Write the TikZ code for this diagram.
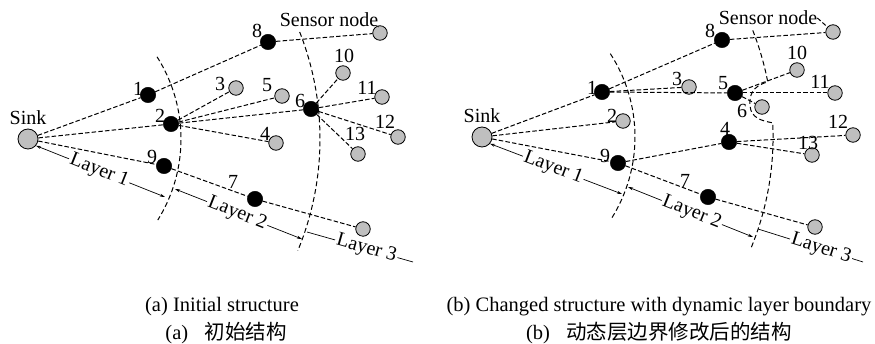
\documentclass[tikz,border=0pt]{standalone}
\usepackage{fontspec}
\setmainfont{Liberation Serif}
\newfontfamily\cjk{Noto Sans CJK SC}
\usetikzlibrary{positioning,arrows.meta,backgrounds}

\begin{document}
\begin{tikzpicture}[
	x=1pt, y=-1pt,
	font=\fontsize{20}{22}\selectfont,
	sink/.style={
		draw,
		circle,
		line width=0.8pt,
		minimum size=20pt,
		inner sep=0pt,
		fill=black!25,
	},
	relay/.style={
		draw,
		circle,
		minimum size=15.5pt,
		inner sep=0pt,
		fill=black,
	},
	sensor/.style={
		draw,
		circle,
		line width=0.8pt,
		minimum size=14.5pt,
		inner sep=0pt,
		fill=black!25,
	},
	num/.style={inner sep=0pt},
	link/.style={line width=1pt, dash pattern=on 4.5pt off 2.2pt},
	bound/.style={line width=1pt, dash pattern=on 5pt off 3pt},
	dim/.style={line width=0.7pt},
	dimarr/.style={{Stealth[length=5pt,width=3pt]}-{Stealth[length=5pt,width=3pt]}},
	lyr/.style={sloped, fill=white, inner sep=1.5pt},
	caption/.style={font=\fontsize{20.5}{22}\selectfont, inner sep=0pt},
]
\useasboundingbox (0,0) rectangle (875,344);

% (a) initial structure -- nodes
\node[sink] (sinkA) at (28,139) {};
\node[num, above=4pt of sinkA] (sinkAl) {Sink};
\node[relay] (a1) at (148,95) {};
\node[relay] (a2) at (171,124) {};
\node[sensor] (a3) at (236,88) {};
\node[sensor] (a4) at (276,143) {};
\node[sensor] (a5) at (282,96) {};
\node[relay] (a6) at (311,109) {};
\node[relay] (a7) at (255,199) {};
\node[relay] (a8) at (268,42) {};
\node[relay] (a9) at (164,166) {};
\node[sensor] (a10) at (343,73) {};
\node[sensor] (a11) at (382,97) {};
\node[sensor] (a12) at (398,137) {};
\node[sensor] (a13) at (358,154) {};
\node[sensor] (aS) at (380,33) {};
\node[sensor] (aT) at (363,229) {};

% (a) numbers
\node[num] (a1l) at (138,89) {1};
\node[num] (a2l) at (160,116) {2};
\node[num] (a3l) at (220,84) {3};
\node[num] (a4l) at (265,134) {4};
\node[num] (a5l) at (267,85) {5};
\node[num] (a6l) at (300,101) {6};
\node[num] (a7l) at (233,182) {7};
\node[num] (a8l) at (257,31) {8};
\node[num] (a9l) at (152,157) {9};
\node[num] (a10l) at (344,56) {10};
\node[num] (a11l) at (367,88) {11};
\node[num] (a12l) at (385,122) {12};
\node[num] (a13l) at (355,134) {13};
\node[num] (aSl) at (329,20) {Sensor node};

% (a) links
\draw[link] (sinkA) -- (a1);
\draw[link] (sinkA) -- (a2);
\draw[link] (sinkA) -- (a9);
\draw[link] (a1) -- (a8);
\draw[link] (a8) -- (aS);
\draw[link] (a2) -- (a3);
\draw[link] (a2) -- (a5);
\draw[link] (a2) -- (a6);
\draw[link] (a2) -- (a4);
\draw[link] (a6) -- (a10);
\draw[link] (a6) -- (a11);
\draw[link] (a6) -- (a12);
\draw[link] (a6) -- (a13);
\draw[link] (a9) -- (a7);
\draw[link] (a7) -- (aT);
\draw[dim] (aSl.south east) -- (aS);

% (a) layer boundaries -- behind the nodes
\begin{scope}[on background layer]
\draw[bound] (sinkA) ++(-32.5:153) arc[start angle=-32.5, end angle=32, radius=153];
\draw[bound] (sinkA) ++(-21.5:292) arc[start angle=-21.5, end angle=22.5, radius=292];
\end{scope}

% (a) layer widths
\coordinate (dA1) at (165,197);
\coordinate (dA2) at (175,189);
\coordinate (dA3) at (302,239);
\coordinate (dA4) at (307,232);
\coordinate (dA5) at (413,262);
\draw[dim, dimarr] (sinkA.-40) -- node[lyr, pos=0.49] {Layer 1} (dA1);
\draw[dim, dimarr] (dA2) -- node[lyr, pos=0.49] {Layer 2} (dA3);
\draw[dim] (dA4) -- node[lyr, pos=0.56] {Layer 3} (dA5);

% (b) changed structure -- nodes
\node[sink] (sinkB) at (482,137) {};
\node[num, above=4pt of sinkB] (sinkBl) {Sink};
\node[relay] (b1) at (602,92) {};
\node[sensor] (b2) at (623,121) {};
\node[sensor] (b3) at (689,87) {};
\node[relay] (b4) at (729,142) {};
\node[relay] (b5) at (735,93) {};
\node[sensor] (b6) at (762,107) {};
\node[relay] (b7) at (708,197) {};
\node[relay] (b8) at (722,40) {};
\node[relay] (b9) at (618,163) {};
\node[sensor] (b10) at (797,70) {};
\node[sensor] (b11) at (835,93) {};
\node[sensor] (b12) at (853,135) {};
\node[sensor] (b13) at (812,155) {};
\node[sensor] (bS) at (833,32) {};
\node[sensor] (bT) at (815,227) {};

% (b) numbers
\node[num] (b1l) at (592,88) {1};
\node[num] (b2l) at (612,116) {2};
\node[num] (b3l) at (677,79) {3};
\node[num] (b4l) at (725,129) {4};
\node[num] (b5l) at (723,83) {5};
\node[num] (b6l) at (742,111) {6};
\node[num] (b7l) at (685,181) {7};
\node[num] (b8l) at (710,31) {8};
\node[num] (b9l) at (605,156) {9};
\node[num] (b10l) at (797,53) {10};
\node[num] (b11l) at (820,82) {11};
\node[num] (b12l) at (838,122) {12};
\node[num] (b13l) at (808,143) {13};
\node[num] (bSl) at (768,18) {Sensor node};

% (b) links
\draw[link] (sinkB) -- (b1);
\draw[link] (sinkB) -- (b2);
\draw[link] (sinkB) -- (b9);
\draw[link] (b1) -- (b8);
\draw[link] (b8) -- (bS);
\draw[link] (b1) -- (b3);
\draw[link] (b1) -- (b5);
\draw[link] (b5) -- (b10);
\draw[link] (b5) -- (b11);
\draw[link] (b5) -- (b6);
\draw[link] (b9) -- (b4);
\draw[link] (b4) -- (b12);
\draw[link] (b4) -- (b13);
\draw[link] (b9) -- (b7);
\draw[link] (b7) -- (bT);
\draw[link] (bSl.east) -- (bS);

% (b) layer boundaries, the outer one bends round node 6
\begin{scope}[on background layer]
\draw[bound] (sinkB) ++(-33:153) arc[start angle=-33, end angle=32.5, radius=153];
\draw[bound] (sinkB) ++(-21.5:291) arc[start angle=-21.5, end angle=-10.9, radius=291]
	.. controls (752,86) and (749,96) .. (750,106)
	.. controls (751,118) and (762,121) .. (772.7,122.8)
	arc[start angle=-2.8, end angle=22.3, radius=291];
\end{scope}

% (b) layer widths
\coordinate (dB1) at (622,194);
\coordinate (dB2) at (628,187);
\coordinate (dB3) at (753,237);
\coordinate (dB4) at (758,229);
\coordinate (dB5) at (863,262);
\draw[dim, dimarr] (sinkB.-40) -- node[lyr, pos=0.48] {Layer 1} (dB1);
\draw[dim, dimarr] (dB2) -- node[lyr, pos=0.51] {Layer 2} (dB3);
\draw[dim] (dB4) -- node[lyr, pos=0.6] {Layer 3} (dB5);

% captions
\node[caption] (capA) at (222,307) {(a) Initial structure};
\node[caption] (capAcn) at (226,333) {(a)\hspace{0.8em}{\cjk 初始结构}};
\node[caption] (capB) at (659,307) {(b) Changed structure with dynamic layer boundary};
\node[caption] (capBcn) at (659,333) {(b)\hspace{0.8em}{\cjk 动态层边界修改后的结构}};

\end{tikzpicture}
\end{document}
